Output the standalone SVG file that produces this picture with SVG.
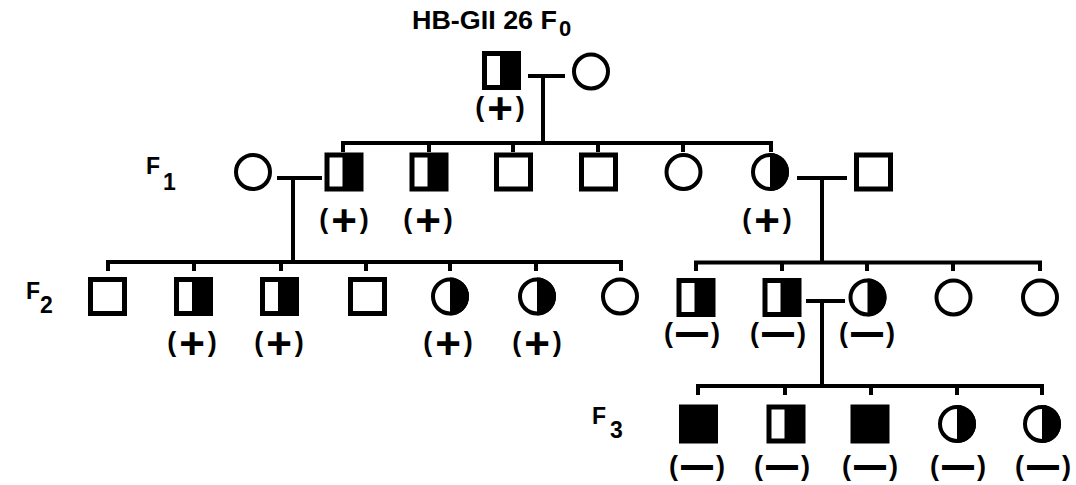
<svg xmlns="http://www.w3.org/2000/svg" xmlns:xlink="http://www.w3.org/1999/xlink" width="1076" height="485" viewBox="0 0 1076 485">
<style>
  .ln { fill: none; stroke: #000; stroke-width: 4; stroke-linecap: butt; stroke-linejoin: miter; }
  .sq { fill: #fff; stroke: #000; stroke-width: 5; }
  .ci { fill: #fff; stroke: #000; stroke-width: 4; }
  .blk { fill: #000; }
  .wht { fill: #fff; }
  .lab { font-family: "Liberation Sans", Arial, Helvetica, sans-serif; font-weight: bold; font-size: 23px; fill: #000; }
  .title { font-family: "Liberation Sans", Arial, Helvetica, sans-serif; font-weight: bold; font-size: 25px; fill: #000; }
  .pm { font-family: "Liberation Sans", Arial, Helvetica, sans-serif; font-weight: bold; font-size: 27px; fill: #000; text-anchor: middle; }
  .plus { font-size: 44px; }
  .bar { font-size: 30px; stroke: #000; stroke-width: 2; }
</style>
<defs>
  <rect id="sq" class="sq" x="-17" y="-17" width="34" height="34"/>
  <g id="hsq">
    <rect class="blk" x="-19.5" y="-19.5" width="39" height="39"/>
    <rect class="wht" x="-14.5" y="-14.5" width="13" height="29"/>
  </g>
  <rect id="fsq" class="blk" x="-19.5" y="-19.5" width="39" height="39"/>
  <circle id="ci" class="ci" r="17"/>
  <g id="hci">
    <circle class="ci" r="17"/>
    <path class="blk" d="M0,-19 A19,19 0 0 1 0,19 Z"/>
  </g>
</defs>
<rect width="1076" height="485" fill="#fff"/>

<g id="labels">
  <text class="title" x="412" y="29"><tspan textLength="145" lengthAdjust="spacingAndGlyphs">HB-GII 26 F</tspan><tspan x="559" y="36" font-size="22">0</tspan></text>
  <text class="lab" x="146" y="174">F<tspan x="163" y="190">1</tspan></text>
  <text class="lab" x="26" y="299">F<tspan x="40" y="313">2</tspan></text>
  <text class="lab" x="592" y="424">F<tspan x="610" y="438">3</tspan></text>
</g>

<g id="connectors">
  <path class="ln" d="M528,76 H565 M543,76 V143"/>
  <path class="ln" d="M343,152 V143 H771 V152 M429,143 V152 M513,143 V152 M598,143 V152 M683,143 V152"/>
  <path class="ln" d="M277,178 H322 M293,178 V262"/>
  <path class="ln" d="M797,178 H847 M822,178 V262"/>
  <path class="ln" d="M108,271 V262 H621 V271 M194,262 V271 M281,262 V271 M366,262 V271 M450,262 V271 M536,262 V271"/>
  <path class="ln" d="M696,271 V262.5 H1040 V271 M782,262.5 V271 M867,262.5 V271 M953,262.5 V271"/>
  <path class="ln" d="M806,301 H845 M822,301 V386"/>
  <path class="ln" d="M698,395 V386 H1042 V395 M785,386 V395 M871,386 V395 M957,386 V395"/>
</g>

<g id="F0-male"><use xlink:href="#hsq" href="#hsq" transform="translate(501.5,70.5)"/><text class="pm" x="500" y="116">(<tspan class="plus" dx="3" dy="8">+</tspan><tspan dx="3" dy="-8">)</tspan></text></g>
<g id="F0-female"><use xlink:href="#ci" href="#ci" transform="translate(591,71.5)"/></g>

<g id="F1-spouse-left"><use xlink:href="#ci" href="#ci" transform="translate(253,172)"/></g>
<g id="F1-1"><use xlink:href="#hsq" href="#hsq" transform="translate(344,172)"/><text class="pm" x="344" y="228">(<tspan class="plus" dx="3" dy="8">+</tspan><tspan dx="3" dy="-8">)</tspan></text></g>
<g id="F1-2"><use xlink:href="#hsq" href="#hsq" transform="translate(429,172)"/><text class="pm" x="428" y="228">(<tspan class="plus" dx="3" dy="8">+</tspan><tspan dx="3" dy="-8">)</tspan></text></g>
<g id="F1-3"><use xlink:href="#sq" href="#sq" transform="translate(513.5,172)"/></g>
<g id="F1-4"><use xlink:href="#sq" href="#sq" transform="translate(598.5,172)"/></g>
<g id="F1-5"><use xlink:href="#ci" href="#ci" transform="translate(683.5,172)"/></g>
<g id="F1-6"><use xlink:href="#hci" href="#hci" transform="translate(770,172)"/><text class="pm" x="767" y="228">(<tspan class="plus" dx="3" dy="8">+</tspan><tspan dx="3" dy="-8">)</tspan></text></g>
<g id="F1-spouse-right"><use xlink:href="#sq" href="#sq" transform="translate(873.5,172)"/></g>

<g id="F2-1"><use xlink:href="#sq" href="#sq" transform="translate(107.5,296.5)"/></g>
<g id="F2-2"><use xlink:href="#hsq" href="#hsq" transform="translate(193.5,296.5)"/><text class="pm" x="192" y="351">(<tspan class="plus" dx="3" dy="8">+</tspan><tspan dx="3" dy="-8">)</tspan></text></g>
<g id="F2-3"><use xlink:href="#hsq" href="#hsq" transform="translate(279.5,296.5)"/><text class="pm" x="279" y="351">(<tspan class="plus" dx="3" dy="8">+</tspan><tspan dx="3" dy="-8">)</tspan></text></g>
<g id="F2-4"><use xlink:href="#sq" href="#sq" transform="translate(367.5,296.5)"/></g>
<g id="F2-5"><use xlink:href="#hci" href="#hci" transform="translate(450,296.5)"/><text class="pm" x="448" y="351">(<tspan class="plus" dx="3" dy="8">+</tspan><tspan dx="3" dy="-8">)</tspan></text></g>
<g id="F2-6"><use xlink:href="#hci" href="#hci" transform="translate(537,296.5)"/><text class="pm" x="537" y="351">(<tspan class="plus" dx="3" dy="8">+</tspan><tspan dx="3" dy="-8">)</tspan></text></g>
<g id="F2-7"><use xlink:href="#ci" href="#ci" transform="translate(620,296.5)"/></g>

<g id="F2-8"><use xlink:href="#hsq" href="#hsq" transform="translate(696,297.5)"/><text class="pm" x="692" y="342">(<tspan class="bar" dx="4" dy="1">—</tspan><tspan dx="4" dy="-1">)</tspan></text></g>
<g id="F2-9"><use xlink:href="#hsq" href="#hsq" transform="translate(782,297.5)"/><text class="pm" x="778" y="342">(<tspan class="bar" dx="4" dy="1">—</tspan><tspan dx="4" dy="-1">)</tspan></text></g>
<g id="F2-10"><use xlink:href="#hci" href="#hci" transform="translate(867.5,297.5)"/><text class="pm" x="867" y="342">(<tspan class="bar" dx="4" dy="1">—</tspan><tspan dx="4" dy="-1">)</tspan></text></g>
<g id="F2-11"><use xlink:href="#ci" href="#ci" transform="translate(953.5,297.5)"/></g>
<g id="F2-12"><use xlink:href="#ci" href="#ci" transform="translate(1040,297.5)"/></g>

<g id="F3-1"><use xlink:href="#fsq" href="#fsq" transform="translate(698.5,424)"/><text class="pm" x="697" y="475">(<tspan class="bar" dx="4" dy="1">—</tspan><tspan dx="4" dy="-1">)</tspan></text></g>
<g id="F3-2"><use xlink:href="#hsq" href="#hsq" transform="translate(786,424)"/><text class="pm" x="782" y="475">(<tspan class="bar" dx="4" dy="1">—</tspan><tspan dx="4" dy="-1">)</tspan></text></g>
<g id="F3-3"><use xlink:href="#fsq" href="#fsq" transform="translate(870,424)"/><text class="pm" x="870" y="475">(<tspan class="bar" dx="4" dy="1">—</tspan><tspan dx="4" dy="-1">)</tspan></text></g>
<g id="F3-4"><use xlink:href="#hci" href="#hci" transform="translate(957,424)"/><text class="pm" x="958" y="475">(<tspan class="bar" dx="4" dy="1">—</tspan><tspan dx="4" dy="-1">)</tspan></text></g>
<g id="F3-5"><use xlink:href="#hci" href="#hci" transform="translate(1042,424)"/><text class="pm" x="1043" y="475">(<tspan class="bar" dx="4" dy="1">—</tspan><tspan dx="4" dy="-1">)</tspan></text></g>
</svg>
